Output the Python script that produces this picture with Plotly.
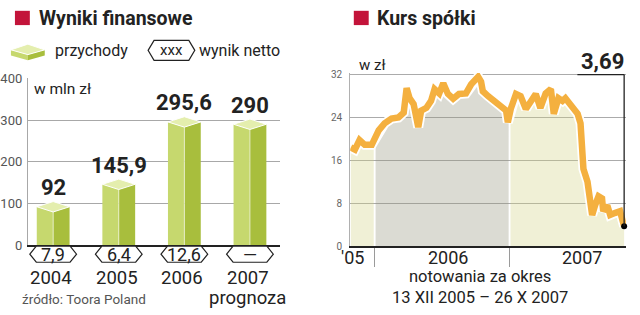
import numpy as np
import plotly.graph_objects as go

# ---------------- data ----------------
years = ["2004", "2005", "2006", "2007"]
year_notes = ["", "", "", "prognoza"]
revenue = [92, 145.9, 295.6, 290]
revenue_labels = ["92", "145,9", "295,6", "290"]
net_labels = ["7,9", "6,4", "12,6", "—"]

left_ticks = [0, 100, 200, 300, 400]
right_ticks = [0, 8, 16, 24, 32]

# stock price, session index 0..470 (13 XII 2005 - 26 X 2007)
sesja = [0, 7, 15, 24, 36, 48, 58, 70, 82, 91, 96, 101, 108, 116, 121, 130, 138, 144, 152, 159,
         167, 176, 186, 198, 207, 219, 224, 227, 236, 246, 258, 267, 270, 275, 284, 292, 301, 309,
         318, 326, 335, 344, 349, 357, 364, 369, 378, 390, 395, 398, 400, 407, 412, 415, 420, 426,
         432, 434, 441, 446, 455, 463, 470]
kurs = [18.4, 18.0, 19.8, 18.9, 18.9, 21.6, 22.9, 23.8, 24.0, 24.9, 29.5, 27.6, 26.5, 22.2, 25.3,
        25.8, 27.1, 29.3, 28.5, 30.4, 28.4, 27.5, 28.4, 28.5, 30.2, 31.6, 30.7, 28.9, 28.0, 27.1,
        26.2, 25.3, 23.1, 25.6, 28.4, 28.0, 25.6, 27.1, 28.4, 25.8, 28.5, 29.3, 24.7, 27.6, 27.1,
        27.6, 26.5, 24.7, 22.9, 18.5, 14.4, 12.0, 8.9, 5.8, 7.6, 9.3, 8.9, 6.5, 7.6, 5.8, 6.2, 6.5,
        3.69]
year_start_sessions = [41, 273]          # first sessions of 2006 and 2007
period_labels = ["'05", "2006", "2007"]
last_label = "3,69"

# ---------------- helpers ----------------
W, H = 640, 315
def px(x): return x / W
def py(y): return 1 - y / H

LIGHT = "#c6d86e"
DARK = "#a8be3d"
TOP = "#e4eeae"
RED = "#c3143a"
ORANGE = "#f4b03f"
TXT = "#222222"
FONT = "Roboto"

fig = go.Figure()

# ---------------- left: revenue bars ----------------
xi = list(range(len(years)))
bw = 0.5
fig.add_trace(go.Bar(x=xi, y=revenue, width=bw / 2, offset=-bw / 2, marker_color=LIGHT,
                     marker_line_width=0, xaxis="x", yaxis="y", hoverinfo="skip"))
fig.add_trace(go.Bar(x=xi, y=revenue, width=bw / 2, offset=0, marker_color=DARK,
                     marker_line_width=0, xaxis="x", yaxis="y", hoverinfo="skip"))
dv = 12.5
for i, v in zip(xi, revenue):
    fig.add_trace(go.Scatter(x=[i - bw / 2, i, i + bw / 2, i, i - bw / 2],
                             y=[v, v + dv, v, v - dv, v], fill="toself", fillcolor=TOP,
                             mode="lines", line=dict(color="white", width=1),
                             xaxis="x", yaxis="y", hoverinfo="skip"))
    fig.add_trace(go.Scatter(x=[i, i], y=[0, v - dv], mode="lines",
                             line=dict(color="rgba(255,255,255,0.6)", width=1),
                             xaxis="x", yaxis="y", hoverinfo="skip"))

# ---------------- right: stock line ----------------
b1, b2 = year_start_sessions
g = 1.6
segments = [(0, b1 - g, "rgba(210,210,132,0.33)"),
            (b1 + g, b2 - g, "rgba(150,150,125,0.34)"),
            (b2 + g, sesja[-1], "rgba(210,210,132,0.33)")]
for a, b, col in segments:
    xs = [a] + [s for s in sesja if a < s < b] + [b]
    ys = list(np.interp(xs, sesja, kurs))
    fig.add_trace(go.Scatter(x=xs, y=ys, fill="tozeroy", fillcolor=col, mode="lines",
                             line=dict(width=0), xaxis="x2", yaxis="y2", hoverinfo="skip"))

fig.add_trace(go.Scatter(x=sesja, y=kurs, mode="lines",
                         line=dict(color="white", width=10, shape="linear"),
                         xaxis="x2", yaxis="y2", hoverinfo="skip"))
fig.add_trace(go.Scatter(x=sesja, y=kurs, mode="lines",
                         line=dict(color=ORANGE, width=6.5, shape="linear"),
                         xaxis="x2", yaxis="y2", hoverinfo="skip"))
fig.add_trace(go.Scatter(x=[sesja[-1]], y=[kurs[-1]], mode="markers",
                         marker=dict(color="black", size=6), cliponaxis=False,
                         xaxis="x2", yaxis="y2", hoverinfo="skip"))

# ---------------- axes ----------------
fig.update_layout(
    width=W, height=H, margin=dict(l=0, r=0, t=0, b=0),
    paper_bgcolor="white", plot_bgcolor="rgba(0,0,0,0)",
    showlegend=False, barmode="overlay",
    font=dict(family=FONT, color=TXT),
    xaxis=dict(domain=[px(24), px(278)], range=[-0.386, 3.462], showgrid=False,
               zeroline=False, showticklabels=False, ticks="", showline=True,
               linecolor="#222222", linewidth=1.5, fixedrange=True),
    yaxis=dict(domain=[py(250), py(75)], range=[0, 400], tickvals=left_ticks,
               showgrid=True, gridcolor="#a8a8a8", gridwidth=1, zeroline=False,
               showline=True, linecolor="#a8a8a8", linewidth=1, ticks="",
               tickfont=dict(size=13, color="#555555", family=FONT),
               ticklabelstandoff=2, anchor="x", fixedrange=True),
    xaxis2=dict(domain=[px(348.4), px(625.8)], range=[-1, 473], showgrid=False,
                zeroline=False, showticklabels=False, tickvals=year_start_sessions,
                ticks="outside", ticklen=19, tickcolor="#9a9a9a", tickwidth=1,
                showline=True, linecolor="#222222", linewidth=1.5, anchor="y2",
                fixedrange=True),
    yaxis2=dict(domain=[py(251), py(71 - 0.3 * 5.5)], range=[0, 32.3], tickvals=right_ticks,
                showgrid=True, gridcolor="#ababab", gridwidth=1, zeroline=False,
                showline=True, linecolor="#b0b0b0", linewidth=1, ticks="",
                tickfont=dict(size=10, color="#666666", family=FONT),
                ticklabelstandoff=5, anchor="x2", fixedrange=True),
)

shapes = []
# red title squares
for x0 in (11, 352):
    shapes.append(dict(type="rect", xref="paper", yref="paper", x0=px(x0), x1=px(x0 + 15),
                       y0=py(19), y1=py(4), fillcolor=RED, line_width=0))

def poly(pts, fill, line_color=None, lw=0):
    path = "M " + " L ".join(f"{px(a):.5f},{py(b):.5f}" for a, b in pts) + " Z"
    d = dict(type="path", xref="paper", yref="paper", path=path, fillcolor=fill)
    d["line"] = dict(color=line_color or fill, width=lw)
    return d

# legend cube
shapes.append(poly([(7, 45), (24, 50), (24, 56), (7, 51)], LIGHT))
shapes.append(poly([(24, 50), (41, 45), (41, 51), (24, 56)], DARK))
shapes.append(poly([(7, 45), (24, 39), (41, 45), (24, 50)], TOP, "white", 1))

def hexagon(cx, cy, hw, hh, tip):
    return poly([(cx - hw, cy), (cx - hw + tip, cy - hh), (cx + hw - tip, cy - hh),
                 (cx + hw, cy), (cx + hw - tip, cy + hh), (cx - hw + tip, cy + hh)],
                "white", "#222222", 1.2)

shapes.append(hexagon(168.5, 45.5, 23.5, 10.5, 6))
centers = [49.5 + 66 * i for i in xi]
for cx in centers:
    shapes.append(hexagon(cx, 259.5, 23.5, 8.5, 6.5))

# callout lines for last price
shapes.append(dict(type="line", xref="paper", yref="paper", x0=px(577), x1=px(624.3),
                   y0=py(71), y1=py(71), line=dict(color="#222222", width=1.3)))
shapes.append(dict(type="line", xref="x2", yref="y2", x0=sesja[-1], x1=sesja[-1],
                   y0=kurs[-1], y1=32, line=dict(color="#222222", width=1.3)))
fig.update_layout(shapes=shapes)

ann = []
def text(x, y, s, size, anchor="left", bold=False, color=TXT, xref="paper", yref="paper"):
    ann.append(dict(x=x, y=y, xref=xref, yref=yref, text=f"<b>{s}</b>" if bold else s,
                    showarrow=False, xanchor=anchor, yanchor="middle",
                    font=dict(size=size, color=color, family=FONT)))

text(px(33), py(12), "Wyniki finansowe", 19.5, bold=True)
text(px(373), py(12), "Kurs spółki", 19.5, bold=True)
text(px(49), py(46), "przychody", 16)
text(px(168.5), py(45.5), "xxx", 15, anchor="center")
text(px(194), py(46), "wynik netto", 16)
text(px(28), py(86), "w mln zł", 15.5)
text(px(16), py(306.5), "źródło: Toora Poland", 13.5, color="#555555")

for i, v, lab in zip(xi, revenue, revenue_labels):
    ann.append(dict(x=i, y=v, xref="x", yref="y", text=f"<b>{lab}</b>", showarrow=False,
                    xanchor="center", yanchor="middle", yshift=19,
                    font=dict(size=22, color=TXT, family=FONT)))
for cx, lab, yr, note in zip(centers, net_labels, years, year_notes):
    text(px(cx), py(260), lab, 18, anchor="center")
    text(px(cx - 2), py(284.5), yr, 18.5, anchor="center")
    if note:
        text(px(cx - 2), py(305.5), note, 18.5, anchor="center")

text(px(355), py(61), "w zł", 15)
text(px(626), py(57), last_label, 22, anchor="right", bold=True)
for cx, lab in zip([351, 447, 582], period_labels):
    text(px(cx), py(263.5), lab, 18, anchor="center")
text(px(479), py(293.5), "notowania za okres<br>13 XII 2005 – 26 X 2007", 16.5, anchor="center")

fig.update_layout(annotations=ann)
fig.write_html("out.html", config={"displayModeBar": False})
